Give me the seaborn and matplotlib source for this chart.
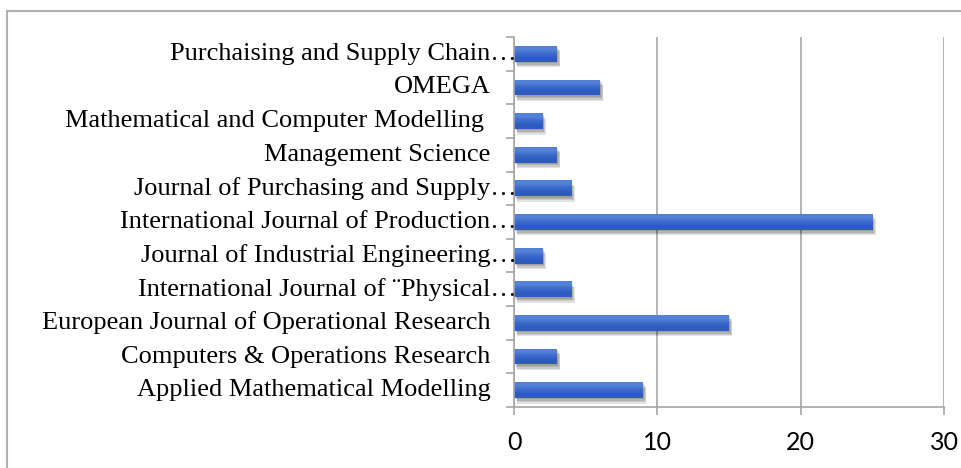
import matplotlib
matplotlib.use("Agg")
import matplotlib.pyplot as plt
import matplotlib.patheffects as pe
from matplotlib.colors import LinearSegmentedColormap
from matplotlib.patches import Rectangle
from matplotlib.transforms import offset_copy
import seaborn as sns
import pandas as pd

# journals, top to bottom as shown in the chart
journals = [
    "Purchaising and Supply Chain\u2026",
    "OMEGA",
    "Mathematical and Computer Modelling ",
    "Management Science",
    "Journal of Purchasing and Supply\u2026",
    "International Journal of Production\u2026",
    "Journal of Industrial Engineering\u2026",
    "International Journal of \u00a8Physical\u2026",
    "European Journal of Operational Research",
    "Computers & Operations Research",
    "Applied Mathematical Modelling",
]
counts = [3, 6, 2, 3, 4, 25, 2, 4, 15, 3, 9]
x_ticks = [0, 10, 20, 30]

df = pd.DataFrame({"journal": journals, "count": counts})

sns.set_theme(style="white")
plt.rcParams["font.family"] = ["Liberation Serif", "DejaVu Serif"]

fig = plt.figure(figsize=(9.61, 4.68), dpi=100)
ax = fig.add_axes([514 / 961, 1 - 407 / 468, 430 / 961, 370 / 468])

sns.barplot(data=df, x="count", y="journal", orient="h", color="#3a68c9",
            width=0.47, saturation=1, linewidth=0, ax=ax)

# soft drop shadow + vertical gradient like the Excel bars
shadow = [pe.SimplePatchShadow(offset=(0.6 * k, -1.0 * k), shadow_rgbFace="black",
                               alpha=0.11) for k in (1, 2, 3, 4)]
grad = LinearSegmentedColormap.from_list("bar", ["#5381d8", "#3b69ca", "#2e5bc0"])
ylim = ax.get_ylim()
for bar in ax.patches:
    bar.set_path_effects(shadow + [pe.Normal()])
    x0, y0, w, h = bar.get_x(), bar.get_y(), bar.get_width(), bar.get_height()
    im = ax.imshow([[0.0], [1.0]], cmap=grad, aspect="auto", interpolation="bilinear",
                   extent=(x0, x0 + w, y0 + h, y0), origin="upper",
                   zorder=bar.get_zorder() + 0.1)
    im.set_clip_path(bar)
ax.set_ylim(ylim)

grey = "#a6a6a6"
ax.set_xlim(0, 30)
ax.set_xticks(x_ticks)
ax.set_xticklabels([str(t) for t in x_ticks], family=["Lato", "DejaVu Sans"],
                   fontsize=18, color="black")
ax.xaxis.grid(True, color=grey, linewidth=1.2)
ax.set_axisbelow(True)
ax.tick_params(axis="x", direction="out", length=6, width=1.2, color=grey,
               pad=11, bottom=True)

# category separators on the left axis
ax.set_yticks([i - 0.5 for i in range(len(journals) + 1)], minor=True)
ax.tick_params(axis="y", which="minor", direction="out", length=6, width=1.2,
               color=grey, left=True)
ax.tick_params(axis="y", which="major", length=0)
ax.set_yticklabels([])
ax.set_xlabel("")
ax.set_ylabel("")

for side in ["top", "right"]:
    ax.spines[side].set_visible(False)
for side in ["left", "bottom"]:
    ax.spines[side].set_color(grey)
    ax.spines[side].set_linewidth(1.2)

# category labels, right aligned against the axis
trans = ax.get_yaxis_transform()
for i, name in enumerate(journals):
    if name.endswith("\u2026"):
        shift = 2
    else:
        shift = -17 - 4.75 * (len(name) - len(name.rstrip()))
    t = offset_copy(trans, fig=fig, x=shift, y=0, units="points")
    ax.text(0, i, name.rstrip(), transform=t, ha="right", va="center",
            fontsize=19, color="black")

# chart frame
fig.patches.append(Rectangle((7 / 961, -0.05), 1.0, 1 - 11 / 468 + 0.05,
                             transform=fig.transFigure, fill=False,
                             edgecolor="#b0b0b0", linewidth=1.5))

fig.savefig("out.png", dpi=100)
